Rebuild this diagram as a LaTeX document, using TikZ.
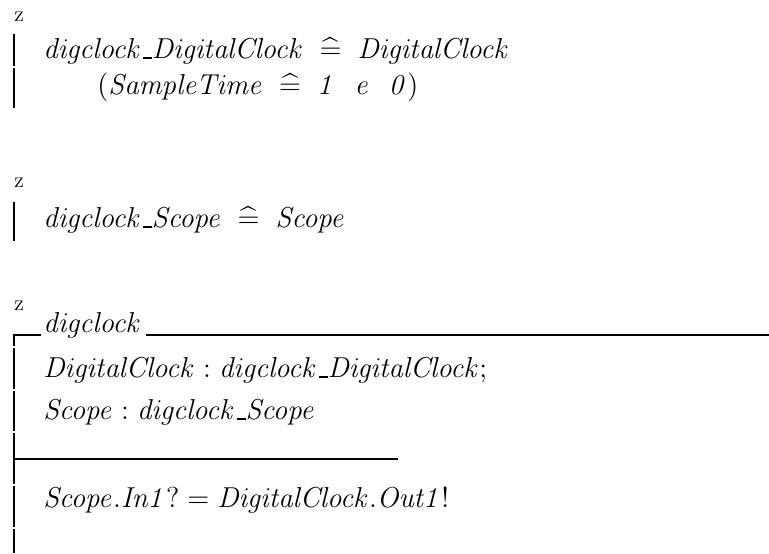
\documentclass[tikz,border=0pt]{standalone}
\usepackage{amsmath}
\begin{document}
\begin{tikzpicture}[x=0.5pt,y=-0.5pt,
  zt/.style={inner sep=0pt,anchor=base west,font=\fontsize{14.4pt}{17pt}\selectfont},
  zz/.style={inner sep=0pt,anchor=base west,font=\fontsize{11pt}{13pt}\selectfont},
  zbar/.style={line width=1pt}]
\useasboundingbox (0,0) rectangle (769,553);
\newcommand{\zdef}{\mathrel{\;\widehat{=}\;}}
\newcommand{\zus}{\mbox{\kern.06em\vbox{\hrule width.3em height .5pt depth .5pt}}}
\newcommand{\zsp}{\mkern12mu}
% box 1
\node[zz] (z1) at (14,21) {z};
\node[zt] (a1) at (43,58) {$\mathit{digclock}\zus\mathit{DigitalClock} \zdef \mathit{DigitalClock}$};
\node[zt] (a2) at (97,94) {$(\mathit{SampleTime} \zdef \mathit{1}\zsp\mathit{e}\zsp\mathit{0})$};
\coordinate (b1a) at (14,34); \coordinate (b1b) at (14,66);
\coordinate (b1c) at (14,68); \coordinate (b1d) at (14,108);
\draw[zbar] (b1a) -- (b1b); \draw[zbar] (b1c) -- (b1d);
% box 2
\node[zz] (z2) at (14,187) {z};
\node[zt] (c1) at (43,227) {$\mathit{digclock}\zus\mathit{Scope} \zdef \mathit{Scope}$};
\coordinate (b2a) at (14,202); \coordinate (b2b) at (14,241);
\draw[zbar] (b2a) -- (b2b);
% schema
\node[zz] (z3) at (14,310) {z};
\node[zt] (name) at (43,332) {$\mathit{digclock}$};
\node[zt] (d1) at (43,377) {$\mathit{DigitalClock} : \mathit{digclock}\zus\mathit{DigitalClock};$};
\node[zt] (d2) at (43,419) {$\mathit{Scope} : \mathit{digclock}\zus\mathit{Scope}$};
\node[zt] (p1) at (43,507) {$\mathit{Scope.In1}? = \mathit{DigitalClock.Out1}!$};
\coordinate (t0) at (14,335); \coordinate (t1) at (41,335);
\coordinate (t2) at (146,335); \coordinate (t3) at (769,335);
\coordinate (m0) at (14,459); \coordinate (m1) at (398,459);
\coordinate (s1) at (14,346); \coordinate (s2) at (14,348);
\coordinate (s3) at (14,389); \coordinate (s4) at (14,391);
\coordinate (s5) at (14,431); \coordinate (s6) at (14,433);
\coordinate (s7) at (14,484); \coordinate (s8) at (14,486);
\coordinate (s9) at (14,527); \coordinate (s10) at (14,529);
\coordinate (s11) at (14,553);
\draw[zbar] (t1) -- (t0) -- (s1);
\draw[zbar] (t2) -- (t3);
\draw[zbar] (s2) -- (s3);
\draw[zbar] (s4) -- (s5);
\draw[zbar] (s6) -- (s7);
\draw[zbar] (m0) -- (m1);
\draw[zbar] (s8) -- (s9);
\draw[zbar] (s10) -- (s11);
\end{tikzpicture}
\end{document}
